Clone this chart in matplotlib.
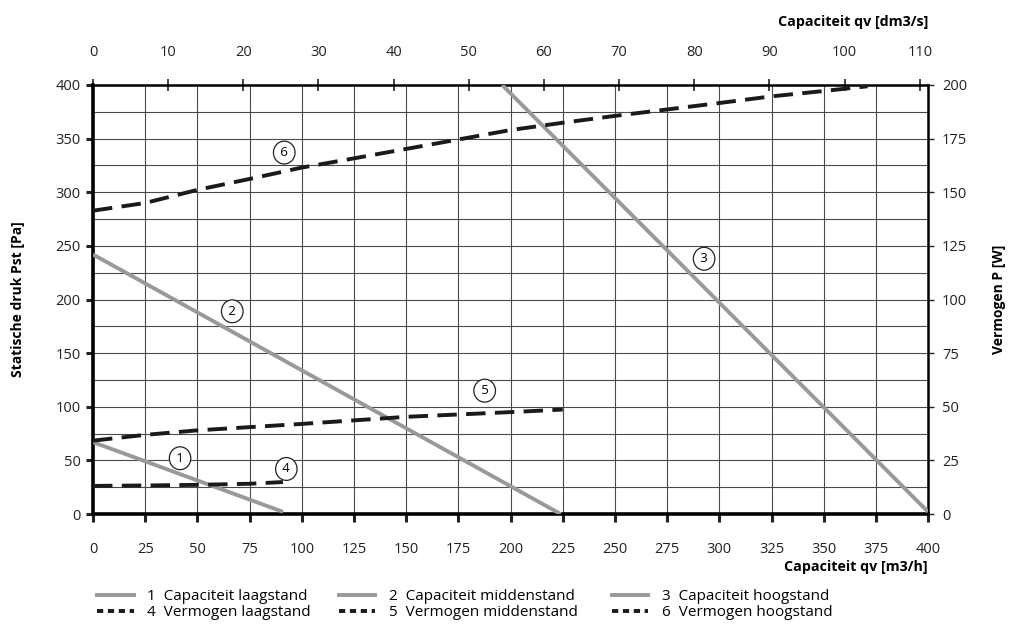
import numpy as np
import matplotlib.pyplot as plt
from matplotlib.lines import Line2D

plt.rcParams['font.family'] = ['Open Sans', 'DejaVu Sans']

# capaciteit (m3/h) en statische druk (Pa)
q1 = [0, 91]
p1 = [67, 2]
q2 = [0, 224]
p2 = [242, 0]
q3 = [196, 400]
p3 = [400, 2]

# vermogen (W)
q4 = [0, 25, 50, 75, 91]
w4 = [13.1, 13.3, 13.6, 14.1, 14.9]
q5 = [0, 25, 50, 100, 150, 200, 225]
w5 = [34.2, 36.9, 39.0, 42.0, 45.3, 47.5, 48.7]
q6 = [0, 25, 50, 75, 100, 125, 150, 175, 200, 225, 250, 275, 300, 325, 350, 371]
w6 = [141.4, 145.0, 151.1, 156.2, 161.5, 165.8, 170.2, 174.6, 179.0, 182.4,
      185.6, 188.6, 191.6, 194.7, 197.2, 199.4]

# nummers bij de lijnen (x, Pa)
lbl_txt = ['1', '2', '3', '4', '5', '6']
lbl_x = [41.7, 66.7, 292.7, 92.6, 187.6, 91.6]
lbl_y = [52, 189, 238, 42, 115, 337]

legend_txt = ['1  Capaciteit laagstand', '2  Capaciteit middenstand', '3  Capaciteit hoogstand',
              '4  Vermogen laagstand', '5  Vermogen middenstand', '6  Vermogen hoogstand']

grey = '#999999'
dash = (5, 2.4)

fig = plt.figure(figsize=(10.11, 6.25), dpi=100)
ax = fig.add_axes([0.092, 0.1776, 0.826, 0.6864])
ax.set_xlim(0, 400)
ax.set_ylim(0, 400)
ax.set_xticks(np.arange(0, 401, 25))
ax.set_yticks(np.arange(0, 401, 50))
ax.set_yticks(np.arange(0, 401, 25), minor=True)
ax.grid(True, which='both', color='#4a4a4a', lw=0.8)
ax.set_axisbelow(True)

ax.plot(q1, p1, color=grey, lw=2.8, solid_capstyle='butt', zorder=3)
ax.plot(q2, p2, color=grey, lw=2.8, solid_capstyle='butt', zorder=3)
ax.plot(q3, p3, color=grey, lw=2.8, solid_capstyle='butt', zorder=3)

ax2 = ax.twinx()
ax2.set_ylim(0, 200)
ax2.set_yticks(np.arange(0, 201, 25))
for q, w in [(q4, w4), (q5, w5), (q6, w6)]:
    ax2.plot(q, w, color='#1a1a1a', lw=2.8, dashes=dash, dash_capstyle='butt')

for t, x, y in zip(lbl_txt, lbl_x, lbl_y):
    ax.text(x, y, '\u2009' + t + '\u2009', ha='center', va='center', fontsize=9.5, zorder=5,
            bbox=dict(boxstyle='ellipse,pad=0.12', fc='white', ec='#222222', lw=0.9))

for s in ['left', 'bottom']:
    ax.spines[s].set_linewidth(2.6)
for s in ['top', 'right']:
    ax.spines[s].set_linewidth(1.8)
for s in ax2.spines.values():
    s.set_visible(False)

ax.tick_params(axis='x', which='major', direction='out', length=6, width=2.2, pad=14,
               labelsize=10.5, colors='#222222')
ax.tick_params(axis='y', which='major', direction='out', length=5, width=2.2, pad=4,
               labelsize=10.5, colors='#222222')
ax.tick_params(axis='y', which='minor', length=0)
ax2.tick_params(axis='y', direction='out', length=4, width=1, pad=6,
                labelsize=10.5, colors='#222222')

top = ax.secondary_xaxis('top', functions=(lambda x: x / 3.6, lambda x: x * 3.6))
top.set_xticks(np.arange(0, 111, 10))
top.spines['top'].set_visible(False)
top.tick_params(direction='inout', length=8, width=1.2, pad=14, labelsize=10.5, colors='#222222')

ax.set_ylabel('Statische druk Pst [Pa]', fontsize=10, fontweight='bold', labelpad=22)
ax2.set_ylabel('Vermogen P [W]', fontsize=10, fontweight='bold', labelpad=18)
fig.text(0.918, 0.965, 'Capaciteit qv [dm3/s]', ha='right', va='center',
         fontsize=10.3, fontweight='bold')
fig.text(0.918, 0.093, 'Capaciteit qv [m3/h]', ha='right', va='center',
         fontsize=10.3, fontweight='bold')

# drie legenda-kolommen, elk met capaciteit boven en vermogen onder
col_x = [0.096, 0.335, 0.605]
for i in range(3):
    h = [Line2D([], [], color=grey, lw=2.8),
         Line2D([], [], color='#1a1a1a', lw=2.8, dashes=(1.6, 1.2))]
    fig.legend(h, [legend_txt[i], legend_txt[i + 3]], loc='lower left',
               bbox_to_anchor=(col_x[i], 0.008), frameon=False, fontsize=11,
               handlelength=2.4, handletextpad=0.9, labelspacing=0.05,
               borderpad=0, borderaxespad=0)

fig.savefig('out.png', dpi=100)
